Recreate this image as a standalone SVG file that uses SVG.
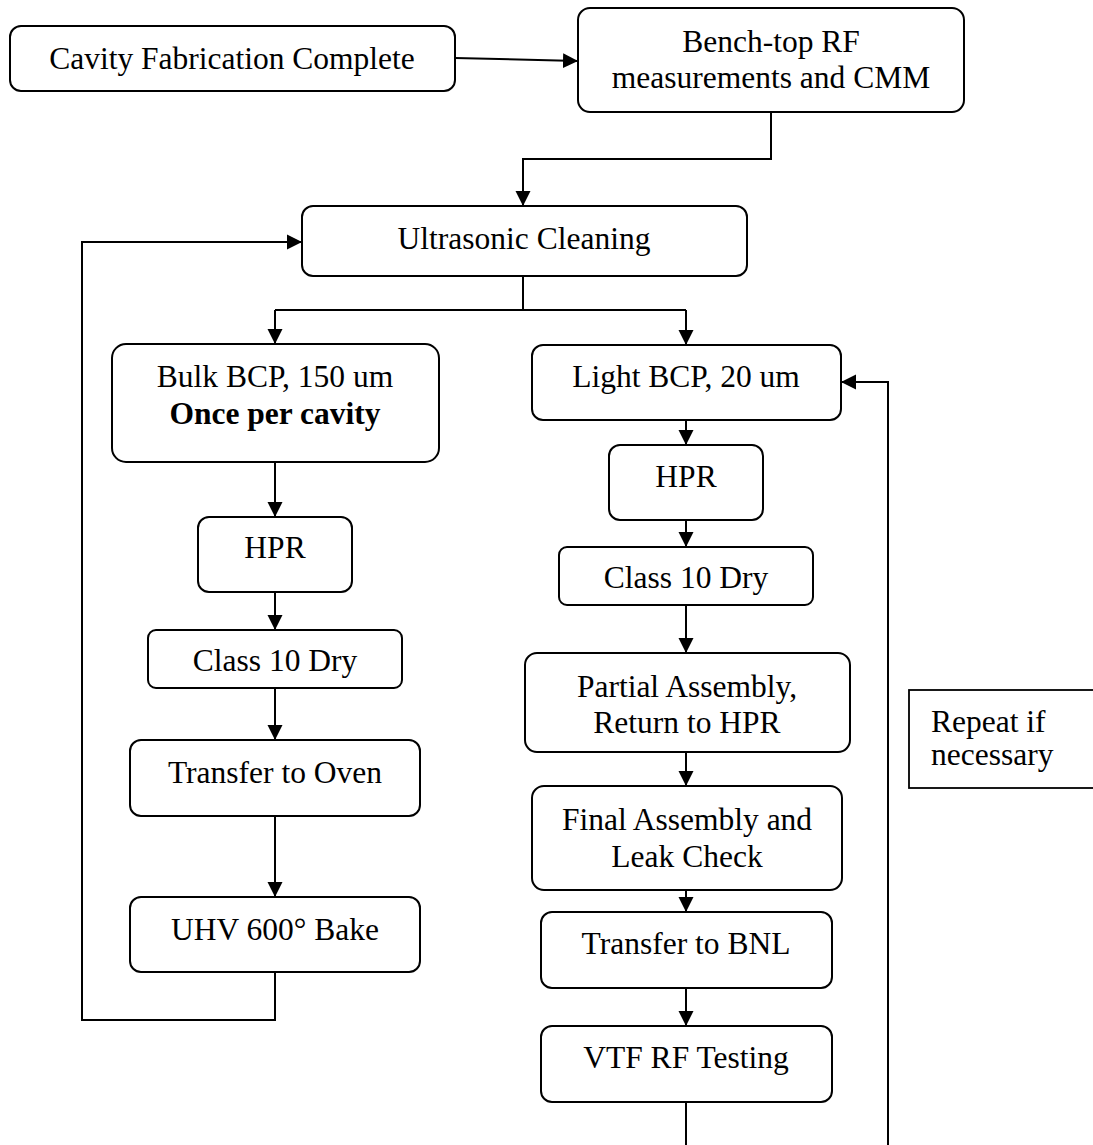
<svg xmlns="http://www.w3.org/2000/svg" width="1093" height="1145" viewBox="0 0 1093 1145">
  <style>
    .box { fill: #ffffff; stroke: #000000; stroke-width: 2; }
    .note { fill: #ffffff; stroke: #000000; stroke-width: 1.8; }
    .lbl { font-family: "Liberation Serif", "Times New Roman", serif; font-size: 31.5px; fill: #000000; text-anchor: middle; }
    .left { text-anchor: start; }
    .bold { font-weight: bold; }
    .wire { fill: none; stroke: #000000; stroke-width: 2; }
    .arrow { marker-end: url(#head); }
  </style>
  <defs>
    <marker id="head" markerUnits="userSpaceOnUse" markerWidth="16" markerHeight="16" refX="15" refY="8" orient="auto">
      <path d="M0,0.5 L15,8 L0,15.5 Z" fill="#000000"/>
    </marker>
  </defs>
  <rect width="1093" height="1145" fill="#ffffff"/>

  <g id="connectors">
    <path class="wire arrow" d="M455,58 L578,61"/>
    <path class="wire arrow" d="M771,112 V159 H523 V206"/>
    <path class="wire" d="M523,276 V310 M275,310 H686"/>
    <path class="wire arrow" d="M275,310 V344"/>
    <path class="wire arrow" d="M686,310 V345"/>
    <path class="wire arrow" d="M275,462 V517"/>
    <path class="wire arrow" d="M275,592 V630"/>
    <path class="wire arrow" d="M275,688 V740"/>
    <path class="wire arrow" d="M275,816 V897"/>
    <path class="wire arrow" d="M275,972 V1020 H82 V242 H302"/>
    <path class="wire arrow" d="M686,420 V445"/>
    <path class="wire arrow" d="M686,520 V547"/>
    <path class="wire arrow" d="M686,605 V653"/>
    <path class="wire arrow" d="M686,752 V786"/>
    <path class="wire arrow" d="M686,890 V912"/>
    <path class="wire arrow" d="M686,988 V1026"/>
    <path class="wire" d="M686,1102 V1145"/>
    <path class="wire arrow" d="M888,1145 V382 H841"/>
  </g>

  <g id="fabrication-complete">
    <rect class="box" x="10" y="26" width="445" height="65" rx="11"/>
    <text class="lbl" x="232" y="69">Cavity Fabrication Complete</text>
  </g>

  <g id="benchtop-rf">
    <rect class="box" x="578" y="8" width="386" height="104" rx="12"/>
    <text class="lbl" x="771" y="52">Bench-top RF</text>
    <text class="lbl" x="771" y="88">measurements and CMM</text>
  </g>

  <g id="ultrasonic-cleaning">
    <rect class="box" x="302" y="206" width="445" height="70" rx="11"/>
    <text class="lbl" x="524" y="249">Ultrasonic Cleaning</text>
  </g>

  <g id="bulk-bcp">
    <rect class="box" x="112" y="344" width="327" height="118" rx="14"/>
    <text class="lbl" x="275" y="387">Bulk BCP, 150 um</text>
    <text class="lbl bold" x="275" y="424">Once per cavity</text>
  </g>

  <g id="hpr-bulk">
    <rect class="box" x="198" y="517" width="154" height="75" rx="11"/>
    <text class="lbl" x="275" y="558">HPR</text>
  </g>

  <g id="dry-bulk">
    <rect class="box" x="148" y="630" width="254" height="58" rx="8"/>
    <text class="lbl" x="275" y="671">Class 10 Dry</text>
  </g>

  <g id="transfer-oven">
    <rect class="box" x="130" y="740" width="290" height="76" rx="11"/>
    <text class="lbl" x="275" y="783">Transfer to Oven</text>
  </g>

  <g id="uhv-bake">
    <rect class="box" x="130" y="897" width="290" height="75" rx="11"/>
    <text class="lbl" x="275" y="940">UHV 600° Bake</text>
  </g>

  <g id="light-bcp">
    <rect class="box" x="532" y="345" width="309" height="75" rx="11"/>
    <text class="lbl" x="686" y="387">Light BCP, 20 um</text>
  </g>

  <g id="hpr-light">
    <rect class="box" x="609" y="445" width="154" height="75" rx="11"/>
    <text class="lbl" x="686" y="487">HPR</text>
  </g>

  <g id="dry-light">
    <rect class="box" x="559" y="547" width="254" height="58" rx="8"/>
    <text class="lbl" x="686" y="588">Class 10 Dry</text>
  </g>

  <g id="partial-assembly">
    <rect class="box" x="525" y="653" width="325" height="99" rx="12"/>
    <text class="lbl" x="687" y="697">Partial Assembly,</text>
    <text class="lbl" x="687" y="733">Return to HPR</text>
  </g>

  <g id="final-assembly">
    <rect class="box" x="532" y="786" width="310" height="104" rx="12"/>
    <text class="lbl" x="687" y="830">Final Assembly and</text>
    <text class="lbl" x="687" y="867">Leak Check</text>
  </g>

  <g id="transfer-bnl">
    <rect class="box" x="541" y="912" width="291" height="76" rx="11"/>
    <text class="lbl" x="686" y="954">Transfer to BNL</text>
  </g>

  <g id="vtf-testing">
    <rect class="box" x="541" y="1026" width="291" height="76" rx="11"/>
    <text class="lbl" x="686" y="1068">VTF RF Testing</text>
  </g>

  <g id="repeat-note">
    <rect class="note" x="909" y="690" width="200" height="98"/>
    <text class="lbl left" x="931" y="732">Repeat if</text>
    <text class="lbl left" x="931" y="765">necessary</text>
  </g>
</svg>
